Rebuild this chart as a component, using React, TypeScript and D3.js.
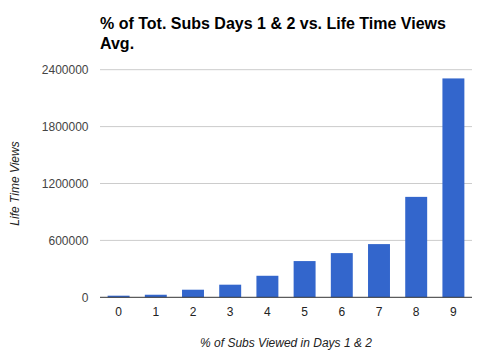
import React from "react";
import * as d3 from "d3";

const categories = ["0", "1", "2", "3", "4", "5", "6", "7", "8", "9"];
const values = [17000, 27000, 80000, 133000, 227000, 382000, 466000, 561000, 1059000, 2308000];
const yTicks = [0, 600000, 1200000, 1800000, 2400000];
const titleLines = ["% of Tot. Subs Days 1 & 2 vs. Life Time Views", "Avg."];
const xTitle = "% of Subs Viewed in Days 1 & 2";
const yTitle = "Life Time Views";

export default function App() {
  const W = 480, H = 358;
  const left = 100, right = 472, top = 69.7, bottom = 297.3;
  const x = d3.scaleBand<string>().domain(categories).range([left, right]).paddingInner(0.41).paddingOuter(0.205);
  const y = d3.scaleLinear().domain([0, 2400000]).range([bottom, top]);
  const font = "Arial, 'Liberation Sans', sans-serif";
  return (
    <svg width={W} height={H} style={{ position: "absolute", left: 0, top: 0, background: "#fff" }} fontFamily={font}>
      {titleLines.map((t, i) => (
        <text key={i} x={100} y={29 + i * 20} fontSize={16} fontWeight="bold" fill="#000">{t}</text>
      ))}
      {yTicks.map((t) => (
        <g key={t}>
          {t !== 0 && <line x1={left} x2={right} y1={y(t)} y2={y(t)} stroke="#cccccc" strokeWidth={1} />}
          <text x={88.5} y={y(t)} dy="0.35em" textAnchor="end" fontSize={12} fill="#444">{t}</text>
        </g>
      ))}
      {categories.map((c, i) => (
        <rect key={c} x={x(c)} y={y(values[i])} width={x.bandwidth()} height={bottom - y(values[i])} fill="#3366cc" />
      ))}
      <line x1={left} x2={right} y1={bottom} y2={bottom} stroke="#333" strokeWidth={1} />
      {categories.map((c) => (
        <text key={c} x={(x(c) as number) + x.bandwidth() / 2} y={316} textAnchor="middle" fontSize={12} fill="#222">{c}</text>
      ))}
      <text x={(left + right) / 2} y={347} textAnchor="middle" fontSize={12} fontStyle="italic" fill="#222">{xTitle}</text>
      <text transform={`translate(19, ${(top + bottom) / 2}) rotate(-90)`} textAnchor="middle" fontSize={12} fontStyle="italic" fill="#222">{yTitle}</text>
    </svg>
  );
}
